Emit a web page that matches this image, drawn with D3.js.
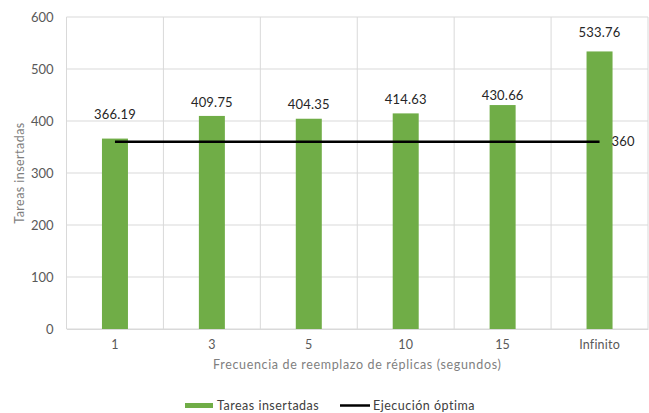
<!DOCTYPE html>
<html><head><meta charset="utf-8">
<script src="https://cdn.jsdelivr.net/npm/d3@7"></script>
<style>body{margin:0;background:#fff}svg{display:block}text{font-family:Lato,"Open Sans",sans-serif}</style>
</head><body><svg id="c" width="649" height="413"></svg>
<script>
const categories = ["1","3","5","10","15","Infinito"];
const tareas = [366.19,409.75,404.35,414.63,430.66,533.76];
const optima = [360,360,360,360,360,360];
const yTicks = [0,100,200,300,400,500,600];
const seriesNames = ["Tareas insertadas","Ejecución óptima"];
const xTitle = "Frecuencia de reemplazo de réplicas (segundos)";
const yTitle = "Tareas insertadas";

// layout-only nudges for data labels (pixels, upward)
const labelNudge = [11,0,1,0,-4,5];

const svg = d3.select("#c");
const m = {l:66.5,r:1,t:17,b:84};
const W = 649, H = 413;
const x = d3.scaleBand().domain(categories).range([m.l, W-m.r]);
const y = d3.scaleLinear().domain([0,600]).range([H-m.b, m.t]);
const green = "#70AD47", grid = "#d9d9d9";

// horizontal gridlines
svg.append("g").selectAll("line").data(yTicks).join("line")
  .attr("x1",m.l).attr("x2",W-m.r).attr("y1",d=>y(d)).attr("y2",d=>y(d))
  .attr("stroke",grid).attr("stroke-width",1);
// vertical gridlines
const vb = categories.map(c=>x(c)).concat([W-m.r]);
svg.append("g").selectAll("line").data(vb).join("line")
  .attr("x1",d=>d).attr("x2",d=>d).attr("y1",y(600)).attr("y2",y(0))
  .attr("stroke",grid).attr("stroke-width",1);

// y axis labels
const yAxis = svg.append("g").attr("transform",`translate(${m.l},0)`)
  .call(d3.axisLeft(y).tickValues(yTicks).tickSize(0).tickPadding(13));
yAxis.select(".domain").remove();
yAxis.selectAll("text").attr("fill","#595959").style("font-size","13px");

// x axis labels
const xAxis = svg.append("g").attr("transform",`translate(0,${y(0)})`)
  .call(d3.axisBottom(x).tickSize(0).tickPadding(11));
xAxis.select(".domain").attr("stroke",grid);
xAxis.selectAll("text").attr("fill","#595959").style("font-size","12.5px").style("letter-spacing","0.2px");

// bars
const bw = 26;
svg.append("g").selectAll("rect").data(tareas).join("rect")
  .attr("x",(d,i)=>x(categories[i])+x.bandwidth()/2-bw/2)
  .attr("width",bw)
  .attr("y",d=>y(d)).attr("height",d=>y(0)-y(d))
  .attr("fill",green);

// bar labels
svg.append("g").selectAll("text").data(tareas).join("text")
  .attr("x",(d,i)=>x(categories[i])+x.bandwidth()/2)
  .attr("y",(d,i)=>y(d)-9-labelNudge[i])
  .attr("text-anchor","middle").attr("fill","#262626").style("font-size","13px").style("letter-spacing","0.2px")
  .text(d=>d.toFixed(2));

// line
const line = d3.line().x((d,i)=>x(categories[i])+x.bandwidth()/2).y(d=>y(d));
svg.append("path").datum(optima).attr("d",line)
  .attr("fill","none").attr("stroke","#000").attr("stroke-width",2.5);
const li = optima.length-1;
svg.append("text").attr("x",x(categories[li])+x.bandwidth()/2+12).attr("y",y(optima[li]))
  .attr("dy","0.35em").attr("fill","#262626").style("font-size","13px").style("letter-spacing","0.2px").text(optima[li]);

// axis titles
svg.append("text").attr("x",(m.l+W-m.r)/2).attr("y",369).attr("text-anchor","middle")
  .attr("fill","#7f7f7f").style("font-size","12.5px").style("letter-spacing","0.65px").text(xTitle);
svg.append("text").attr("transform",`translate(24,${(y(0)+y(600))/2}) rotate(-90)`)
  .attr("text-anchor","middle").attr("fill","#7f7f7f").style("font-size","12.5px").style("letter-spacing","0.45px").text(yTitle);

// legend
const lg = svg.append("g");
lg.append("rect").attr("x",185).attr("y",403).attr("width",28).attr("height",5).attr("fill",green);
lg.append("text").attr("x",217).attr("y",410).attr("fill","#404040").style("font-size","12.5px").style("letter-spacing","0.5px").text(seriesNames[0]);
lg.append("line").attr("x1",340).attr("x2",370).attr("y1",405.5).attr("y2",405.5).attr("stroke","#000").attr("stroke-width",2.5);
lg.append("text").attr("x",373).attr("y",410).attr("fill","#404040").style("font-size","12.5px").style("letter-spacing","0.5px").text(seriesNames[1]);
</script></body></html>
